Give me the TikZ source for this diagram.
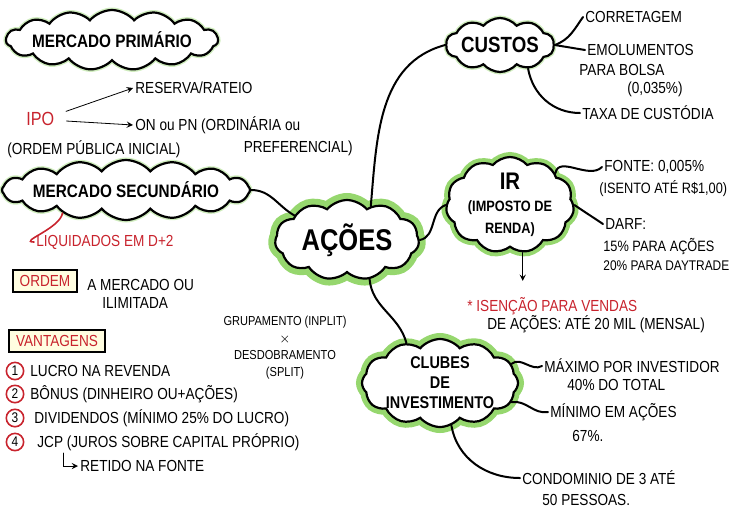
\documentclass[tikz,border=0pt]{standalone}
\usepackage{fontspec}
\setmainfont[FakeStretch=0.85]{Liberation Sans}
\usetikzlibrary{shapes.symbols}
\definecolor{caneta}{RGB}{200,35,45}
\definecolor{brilho}{RGB}{150,215,110}

\begin{document}
\begin{tikzpicture}[x=0.5pt, y=-0.5pt, >=stealth, line cap=round,
  nuvem/.style={cloud, cloud ignores aspect, cloud puffs=15, cloud puff arc=100, draw=black, line width=1.1pt, fill=white, inner sep=0pt},
  brilho/.style={preaction={draw=brilho, line width=#1}},
  fraco/.style={preaction={draw=brilho!45, line width=2.5pt}},
  rotulo/.style={align=center, inner sep=0pt},
  txt/.style={font=\fontsize{8}{9}\selectfont, anchor=west, inner sep=1pt},
  galho/.style={line width=1pt},
  caixa/.style={draw, line width=1.1pt, fill=yellow!12, font=\fontsize{8}{9}\selectfont, text=caneta, inner xsep=3.5pt, inner ysep=2.5pt},
  num/.style={circle, draw=caneta, line width=0.8pt, inner sep=1pt, font=\fontsize{7}{7}\selectfont}]
  \useasboundingbox (0,0) rectangle (735,516);

  % Nuvens principais
  \node[nuvem, fraco, minimum width=106pt, minimum height=30pt] (mprim) at (112,40) {};
  \node[rotulo, font=\bfseries\fontsize{9}{11}\selectfont] (mprim-t) at (mprim) {MERCADO PRIMÁRIO};
  \node[nuvem, cloud puffs=16, fraco, minimum width=124pt, minimum height=30pt] (msec) at (126,190) {};
  \node[rotulo, font=\bfseries\fontsize{9}{11}\selectfont] (msec-t) at (msec) {MERCADO SECUNDÁRIO};
  \node[nuvem, cloud puffs=11, brilho=7pt, minimum width=72pt, minimum height=40pt] (acoes) at (347,240) {};
  \node[rotulo, font=\bfseries\fontsize{15}{17}\selectfont] (acoes-t) at (acoes) {AÇÕES};
  \node[nuvem, cloud puffs=10, fraco, minimum width=54pt, minimum height=27pt] (custos) at (500,45) {};
  \node[rotulo, font=\bfseries\fontsize{11}{13}\selectfont] (custos-t) at (custos) {CUSTOS};
  \node[nuvem, cloud puffs=11, brilho=5pt, minimum width=64pt, minimum height=48pt] (ir) at (510,205) {};
  \node[rotulo, font=\bfseries\fontsize{7.5}{11}\selectfont] (ir-t) at (ir) {{\fontsize{12}{11}\selectfont IR}\\(IMPOSTO DE\\RENDA)};
  \node[nuvem, cloud puffs=12, brilho=6pt, minimum width=78pt, minimum height=44pt] (clubes) at (440,383) {};
  \node[rotulo, font=\bfseries\fontsize{8.5}{10}\selectfont] (clubes-t) at (clubes) {CLUBES\\DE\\INVESTIMENTO};

  % Mercado primario
  \node[txt, text=caneta, font=\fontsize{9.5}{11}\selectfont] (ipo) at (24,119) {IPO};
  \node[txt] (reserva) at (133,88) {RESERVA/RATEIO};
  \node[txt] (onpn) at (133,125) {ON ou PN (ORDINÁRIA ou};
  \node[txt, anchor=east] (pref) at (355,148) {PREFERENCIAL)};
  \node[txt] (ordpub) at (5,149) {(ORDEM PÚBLICA INICIAL)};
  \draw[->, shorten <=5pt] (ipo.15) -- (reserva.west);
  \draw[->, shorten <=5pt] (ipo.-5) -- (onpn.west);

  % Mercado secundario
  \node[txt, text=caneta] (liq) at (34,242) {LIQUIDADOS EM D+2};
  \draw[caneta, line width=0.8pt] (msec.200) to[out=-100, in=180] (liq.west);
  \node[caixa] (ordem) at (45,281) {ORDEM};
  \node[txt] (amerc) at (85,285) {A MERCADO OU};
  \node[txt] (ilim) at (100,303) {ILIMITADA};

  % Vantagens
  \node[caixa] (vant) at (57,341) {VANTAGENS};
  \foreach \n/\y/\dx/\t in {1/371/28/{LUCRO NA REVENDA},
      2/394/28/{BÔNUS (DINHEIRO OU+AÇÕES)},
      3/418/32/{DIVIDENDOS (MÍNIMO 25\% DO LUCRO)},
      4/442/35/{JCP (JUROS SOBRE CAPITAL PRÓPRIO)}} {
    \node[num] (n\n) at (15,\y) {\n};
    \node[txt] (v\n) at (\dx,\y) {\t};
  }
  \node[txt] (retido) at (78,466) {RETIDO NA FONTE};
  \draw[->] ([xshift=14pt]v4.south west) |- (retido.west);

  \node[font=\fontsize{6.5}{8.5}\selectfont, align=center] (grupo) at (285,348) {GRUPAMENTO (INPLIT)\\$\times$\\DESDOBRAMENTO\\(SPLIT)};

  % Galhos centrais
  \draw[galho] (msec.east) to[out=0, in=150] (acoes.155);
  \draw[galho] (acoes.55) to[out=85, in=195] (custos.west);
  \draw[galho] (acoes.east) to[out=10, in=200] (ir.west);
  \draw[galho] (acoes.-60) to[out=-85, in=105] (clubes.130);

  % Custos
  \node[txt] (corr) at (583,17) {CORRETAGEM};
  \node[txt] (emol) at (585,50) {EMOLUMENTOS};
  \node[txt] (bolsa) at (577,70) {PARA BOLSA};
  \node[txt] (taxa035) at (625,89) {(0,035\%)};
  \node[txt] (taxa) at (580,113) {TAXA DE CUSTÓDIA};
  \draw[galho] (custos.east) to[out=20, in=235] (corr.west);
  \draw[galho] (custos.east) -- (emol.west);
  \draw[galho] (custos.-40) to[out=-80, in=180] (taxa.west);

  % Imposto de renda
  \node[txt] (fonte) at (602,167) {FONTE: 0,005\%};
  \node[txt, font=\fontsize{7.5}{9}\selectfont] (isento) at (597,189) {(ISENTO ATÉ R\$1,00)};
  \node[txt] (darf) at (603,224) {DARF:};
  \node[txt, font=\fontsize{7.5}{9}\selectfont] (d15) at (601,246) {15\% PARA AÇÕES};
  \node[txt, font=\fontsize{7}{9}\selectfont] (d20) at (601,266) {20\% PARA DAYTRADE};
  \node[txt, text=caneta] (isen) at (465,306) {* ISENÇÃO PARA VENDAS};
  \node[txt] (isen2) at (485,324) {DE AÇÕES: ATÉ 20 MIL (MENSAL)};
  \draw[galho] (ir.35) to[out=80, in=225] (fonte.west);
  \draw[galho] (ir.east) -- (darf.west);
  \draw[->, shorten >=7pt] (ir.-75) -- (ir.-75 |- isen.north);

  % Clubes de investimento
  \node[txt] (max) at (542,366) {MÁXIMO POR INVESTIDOR};
  \node[txt] (max2) at (565,385) {40\% DO TOTAL};
  \node[txt] (min) at (548,412) {MÍNIMO EM AÇÕES};
  \node[txt] (min2) at (570,436) {67\%.};
  \node[txt] (cond) at (520,478) {CONDOMINIO DE 3 ATÉ};
  \node[txt] (cond2) at (540,500) {50 PESSOAS.};
  \draw[galho] (clubes.15) to[out=40, in=210] (max.west);
  \draw[galho] (clubes.-15) to[out=10, in=190] (min.west);
  \draw[galho] (clubes.-75) to[out=-80, in=180] (cond.west);
\end{tikzpicture}
\end{document}
